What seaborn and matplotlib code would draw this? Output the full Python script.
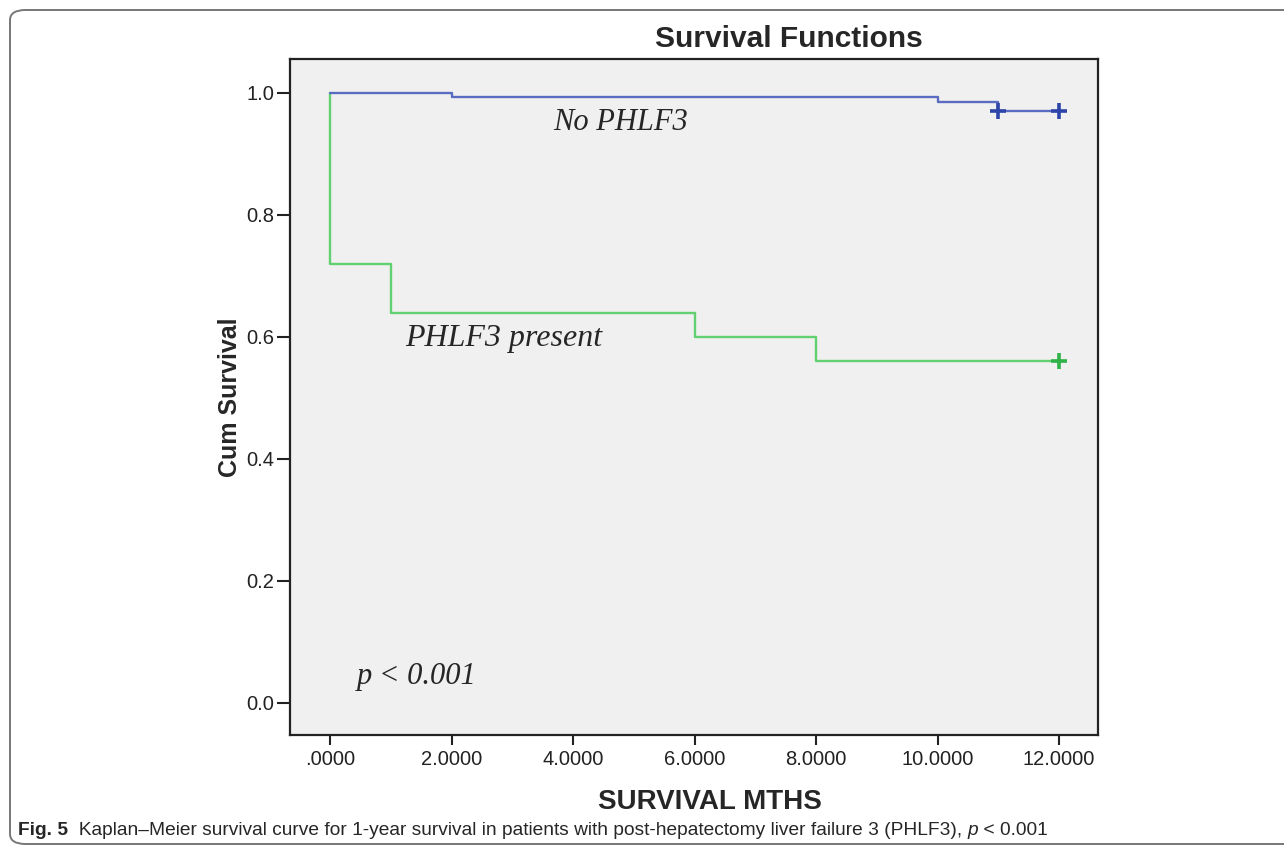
import matplotlib
matplotlib.use("Agg")
import matplotlib.pyplot as plt
from matplotlib.patches import FancyBboxPatch
from matplotlib.ticker import FuncFormatter
import pandas as pd
import seaborn as sns

# Kaplan-Meier step values
no_phlf_months = [0, 2, 10, 11, 12]
no_phlf_surv = [1.0, 0.993, 0.986, 0.971, 0.971]
no_phlf_cens_months = [11, 12]
no_phlf_cens_surv = [0.971, 0.971]

phlf_months = [0, 0, 1, 6, 8, 12]
phlf_surv = [1.0, 0.72, 0.64, 0.60, 0.56, 0.56]
phlf_cens_months = [12]
phlf_cens_surv = [0.56]

x_ticks = [0, 2, 4, 6, 8, 10, 12]
y_ticks = [0.0, 0.2, 0.4, 0.6, 0.8, 1.0]

sns.set_style("ticks")
plt.rcParams["font.family"] = ["Liberation Sans", "DejaVu Sans"]

steps = pd.concat([
    pd.DataFrame({"month": phlf_months, "surv": phlf_surv, "group": "PHLF3 present"}),
    pd.DataFrame({"month": no_phlf_months, "surv": no_phlf_surv, "group": "No PHLF3"}),
])
cens = pd.concat([
    pd.DataFrame({"month": phlf_cens_months, "surv": phlf_cens_surv, "group": "PHLF3 present"}),
    pd.DataFrame({"month": no_phlf_cens_months, "surv": no_phlf_cens_surv, "group": "No PHLF3"}),
])

line_pal = {"No PHLF3": "#5a6cc2", "PHLF3 present": "#62cf70"}
mark_pal = {"No PHLF3": "#2d45a8", "PHLF3 present": "#2fb247"}

fig = plt.figure(figsize=(12.84, 8.47), dpi=100)
ax = fig.add_axes([290 / 1284, 1 - 735 / 847, 808 / 1284, 676 / 847])
ax.set_facecolor("#f0f0f0")

sns.lineplot(data=steps, x="month", y="surv", hue="group", palette=line_pal,
             estimator=None, sort=False, drawstyle="steps-post",
             linewidth=1.7, legend=False, ax=ax)
sns.scatterplot(data=cens, x="month", y="surv", hue="group", palette=mark_pal,
                marker="+", s=130, linewidth=2.6, legend=False, ax=ax, zorder=5)

ax.set_xlim(-0.66, 12.64)
ax.set_ylim(-0.0525, 1.0557)
ax.set_xticks(x_ticks)
ax.set_yticks(y_ticks)
ax.xaxis.set_major_formatter(FuncFormatter(lambda v, p: f"{v:.4f}".lstrip("0") if v < 1 else f"{v:.4f}"))
ax.yaxis.set_major_formatter(FuncFormatter(lambda v, p: f"{v:.1f}"))
ax.tick_params(axis="x", length=7, width=1.5, pad=3.5, labelsize=14.5, colors="#222222")
ax.tick_params(axis="y", length=9.5, width=1.5, pad=2, labelsize=14.5, colors="#222222")
for s in ax.spines.values():
    s.set_linewidth(1.6)
    s.set_color("#222222")

ax.set_xlabel("SURVIVAL MTHS", fontsize=20, fontweight="bold")
ax.xaxis.set_label_coords(0.52, -0.080)
ax.set_ylabel("Cum Survival", fontsize=18, fontweight="bold")
ax.yaxis.set_label_coords(-0.059, 0.5)
ax.set_title("Survival Functions", fontsize=21.5, fontweight="bold", x=0.618, y=1.018, pad=0)

serif = dict(family=["Liberation Serif", "DejaVu Serif"], style="italic", fontsize=22, va="center")
ax.text(3.67, 0.951, "No PHLF3", **serif)
ax.text(1.23, 0.598, "PHLF3 present", fontsize=23, **{k: v for k, v in serif.items() if k != "fontsize"})
ax.text(0.44, 0.043, "p < 0.001", **serif)

# rounded frame around the figure
frame = FancyBboxPatch((10 / 1284, 3 / 847), 1.2, 1 - 13 / 847,
                       boxstyle="round,pad=0,rounding_size=0.012",
                       transform=fig.transFigure, fill=False,
                       edgecolor="#777777", linewidth=1.4)
fig.add_artist(frame)

# caption
cap = dict(fontsize=13.8, family=["Liberation Sans", "DejaVu Sans"])
t1 = fig.text(18 / 1284, 1 - 835 / 847, "Fig. 5", fontweight="bold", **cap)
t2 = ax.annotate("  Kaplan\u2013Meier survival curve for 1-year survival in patients with "
                 "post-hepatectomy liver failure 3 (PHLF3), ",
                 xy=(1, 0), xycoords=t1, va="bottom", annotation_clip=False, **cap)
t3 = ax.annotate("p", xy=(1, 0), xycoords=t2, va="bottom", style="italic",
                 annotation_clip=False, **cap)
ax.annotate(" < 0.001", xy=(1, 0), xycoords=t3, va="bottom", annotation_clip=False, **cap)

fig.savefig("out.png", dpi=100)
